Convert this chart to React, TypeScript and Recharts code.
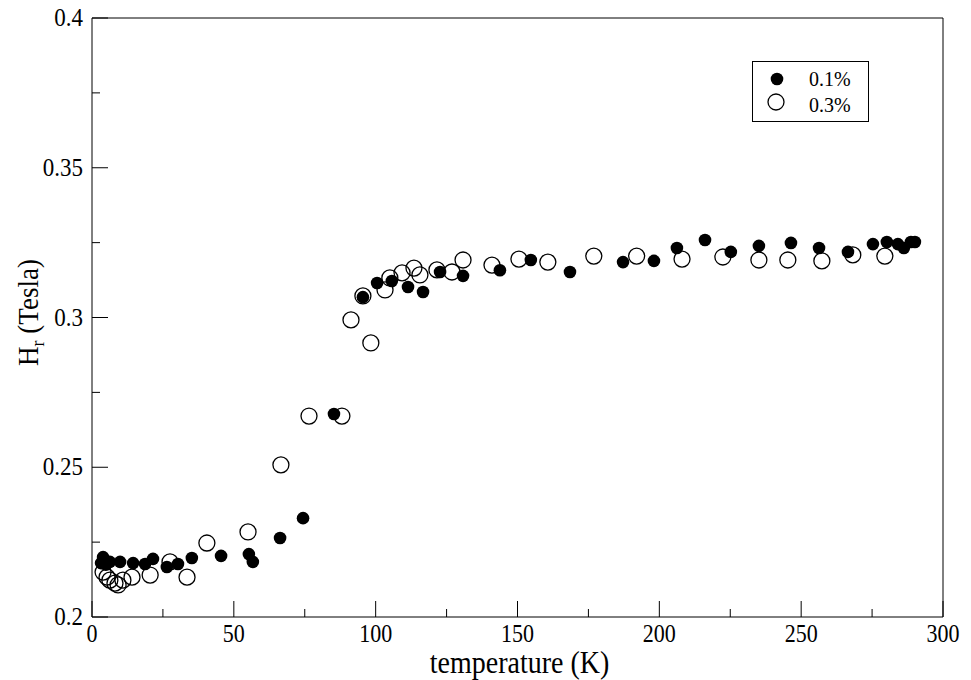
import { Legend, Scatter, ScatterChart, XAxis, YAxis, Label } from 'recharts'

// temperature (K) / Hr (Tesla)
const lowTemp = [3.2, 3.9, 4.9, 6.3, 9.9, 14.5, 18.7, 21.5, 26.4, 30.3, 35.2, 45.5, 55.3, 56.7, 66.3, 74.4, 85.3, 95.5, 100.5, 105.7, 111.4, 116.7, 122.7, 130.8, 143.8, 154.7, 168.5, 187.2, 198.1, 206.2, 216.1, 225.2, 235.1, 246.4, 256.3, 266.5, 275.3, 280.2, 284.1, 286.2, 288.7, 290.1]
const lowField = [0.218, 0.22, 0.2175, 0.2184, 0.2184, 0.218, 0.2177, 0.2194, 0.2167, 0.2177, 0.2197, 0.2204, 0.221, 0.2184, 0.2264, 0.233, 0.2678, 0.3068, 0.3115, 0.3122, 0.3102, 0.3085, 0.3152, 0.3139, 0.3158, 0.3192, 0.3152, 0.3185, 0.3189, 0.3232, 0.3259, 0.3219, 0.3239, 0.3249, 0.3232, 0.3219, 0.3245, 0.3252, 0.3245, 0.3232, 0.3252, 0.3252]

const highTemp = [3.9, 5.3, 6.3, 8.1, 9.2, 10.9, 14.1, 20.5, 27.5, 33.5, 40.5, 55, 66.6, 76.5, 88.1, 91.3, 98.3, 95.5, 103.3, 105, 109.3, 113.5, 115.6, 121.6, 126.9, 130.8, 141, 150.5, 160.7, 176.9, 192, 208, 222.4, 235.1, 245.3, 257.3, 268.2, 279.5]
const highField = [0.215, 0.2133, 0.2123, 0.2113, 0.2107, 0.2123, 0.2133, 0.214, 0.2184, 0.2133, 0.2247, 0.2284, 0.2508, 0.2671, 0.2671, 0.2992, 0.2915, 0.3072, 0.3092, 0.3132, 0.3149, 0.3165, 0.3142, 0.3159, 0.3152, 0.3192, 0.3175, 0.3195, 0.3185, 0.3205, 0.3205, 0.3195, 0.3202, 0.3192, 0.3192, 0.3189, 0.3209, 0.3205]

const xTicks = [0, 25, 50, 75, 100, 125, 150, 175, 200, 225, 250, 275, 300]
const xMajor = [0, 50, 100, 150, 200, 250, 300]
const yTicks = [0.2, 0.225, 0.25, 0.275, 0.3, 0.325, 0.35, 0.375, 0.4]
const yMajor = [0.2, 0.25, 0.3, 0.35, 0.4]
const yLabels = ['0.2', '0.25', '0.3', '0.35', '0.4']

const lowData = lowTemp.map((t, i) => ({ t, h: lowField[i] }))
const highData = highTemp.map((t, i) => ({ t, h: highField[i] }))

const SERIF = 'Liberation Serif'
const MAJOR = 16
const MINOR = 8
// the reference glyphs are a bit taller than wide
const STRETCH = 1.1

function StretchText({ x, y, anchor, size, children }: any) {
  return (
    <text
      transform={`translate(${x} ${y}) scale(1 ${STRETCH})`}
      textAnchor={anchor}
      fontFamily={SERIF}
      fontSize={size}
      fill="#000"
    >
      {children}
    </text>
  )
}

function isMajorX(v: number) {
  return xMajor.includes(v)
}
function majorY(v: number) {
  return yMajor.findIndex((m) => Math.abs(m - v) < 1e-6)
}

function BottomTick(props: any) {
  const { x, y, payload } = props
  const major = isMajorX(payload.value)
  return (
    <g>
      <line x1={x} x2={x} y1={y} y2={y - (major ? MAJOR : MINOR)} stroke="#000" />
      {major && (
        <StretchText x={x} y={y + 25} anchor="middle" size={22}>
          {payload.value}
        </StretchText>
      )}
    </g>
  )
}

function TopTick(props: any) {
  const { x, y, payload } = props
  const major = isMajorX(payload.value)
  return <line x1={x} x2={x} y1={y} y2={y + (major ? MAJOR : MINOR)} stroke="#000" />
}

function LeftTick(props: any) {
  const { x, y, payload } = props
  const idx = majorY(payload.value)
  return (
    <g>
      <line x1={x} x2={x + (idx >= 0 ? MAJOR : MINOR)} y1={y} y2={y} stroke="#000" />
      {idx >= 0 && (
        <StretchText x={x - 9} y={y + 8} anchor="end" size={23}>
          {yLabels[idx]}
        </StretchText>
      )}
    </g>
  )
}

function RightTick(props: any) {
  const { x, y, payload } = props
  const idx = majorY(payload.value)
  return <line x1={x} x2={x - (idx >= 0 ? MAJOR : MINOR)} y1={y} y2={y} stroke="#000" />
}

function FilledDot(props: any) {
  return <circle cx={props.cx} cy={props.cy} r={6.3} fill="#000" />
}

function OpenDot(props: any) {
  return <circle cx={props.cx} cy={props.cy} r={8} fill="none" stroke="#000" strokeWidth={1.3} />
}

function LegendBox() {
  return (
    <svg width={118} height={62} style={{ display: 'block' }}>
      <rect x={0.5} y={0.5} width={116} height={60} fill="#fff" stroke="#000" />
      <circle cx={25} cy={18} r={6.3} fill="#000" />
      <StretchText x={57} y={25} anchor="start" size={20}>0.1%</StretchText>
      <circle cx={24} cy={41} r={8} fill="none" stroke="#000" strokeWidth={1.3} />
      <StretchText x={57} y={51} anchor="start" size={20}>0.3%</StretchText>
    </svg>
  )
}

function YTitle(props: any) {
  const { viewBox } = props
  const bx = 38
  const cy = viewBox.y + viewBox.height / 2 - 5
  return (
    <text
      transform={`translate(${bx} ${cy}) rotate(-90) scale(1 ${STRETCH})`}
      textAnchor="middle"
      fontFamily={SERIF}
      fontSize={27}
      fill="#000"
    >
      H
      <tspan fontSize={18} dy={5}>r</tspan>
      <tspan dy={-5}> (Tesla)</tspan>
    </text>
  )
}

export default function App() {
  return (
    <div style={{ position: 'absolute', left: 0, top: 0, background: '#fff', fontFamily: SERIF }}>
      <ScatterChart width={971} height={680} margin={{ top: 0, right: 0, bottom: 0, left: 0 }}>
        <XAxis
          xAxisId="bottom"
          dataKey="t"
          type="number"
          domain={[0, 300]}
          ticks={xTicks}
          interval={0}
          height={63}
          tickSize={0}
          tickMargin={0}
          tickLine={false}
          tick={<BottomTick />}
          axisLine={{ stroke: '#000' }}
          allowDataOverflow
        >
          <Label
            value="temperature (K)"
            position="bottom"
            offset={0}
            content={(p: any) => (
              <StretchText x={p.viewBox.x + p.viewBox.width / 2 + 2} y={673} anchor="middle" size={28}>
                temperature (K)
              </StretchText>
            )}
          />
        </XAxis>
        <XAxis
          xAxisId="top"
          orientation="top"
          dataKey="t"
          type="number"
          domain={[0, 300]}
          ticks={xTicks}
          interval={0}
          height={18}
          tickSize={0}
          tickMargin={0}
          tickLine={false}
          tick={<TopTick />}
          axisLine={{ stroke: '#000' }}
        />
        <YAxis
          yAxisId="left"
          dataKey="h"
          type="number"
          domain={[0.2, 0.4]}
          ticks={yTicks}
          interval={0}
          width={92}
          tickSize={0}
          tickMargin={0}
          tickLine={false}
          tick={<LeftTick />}
          axisLine={{ stroke: '#000' }}
          allowDataOverflow
        >
          <Label content={<YTitle />} />
        </YAxis>
        <YAxis
          yAxisId="right"
          orientation="right"
          dataKey="h"
          type="number"
          domain={[0.2, 0.4]}
          ticks={yTicks}
          interval={0}
          width={28}
          tickSize={0}
          tickMargin={0}
          tickLine={false}
          tick={<RightTick />}
          axisLine={{ stroke: '#000' }}
        />
        <Scatter
          name="0.3%"
          data={highData}
          xAxisId="bottom"
          yAxisId="left"
          shape={<OpenDot />}
          isAnimationActive={false}
        />
        <Scatter
          name="0.1%"
          data={lowData}
          xAxisId="bottom"
          yAxisId="left"
          shape={<FilledDot />}
          isAnimationActive={false}
        />
        <Legend
          verticalAlign="middle"
          layout="horizontal"
          content={() => <LegendBox />}
          wrapperStyle={{ position: 'absolute', left: 752, top: 61, width: 118, height: 62 }}
        />
      </ScatterChart>
    </div>
  )
}
